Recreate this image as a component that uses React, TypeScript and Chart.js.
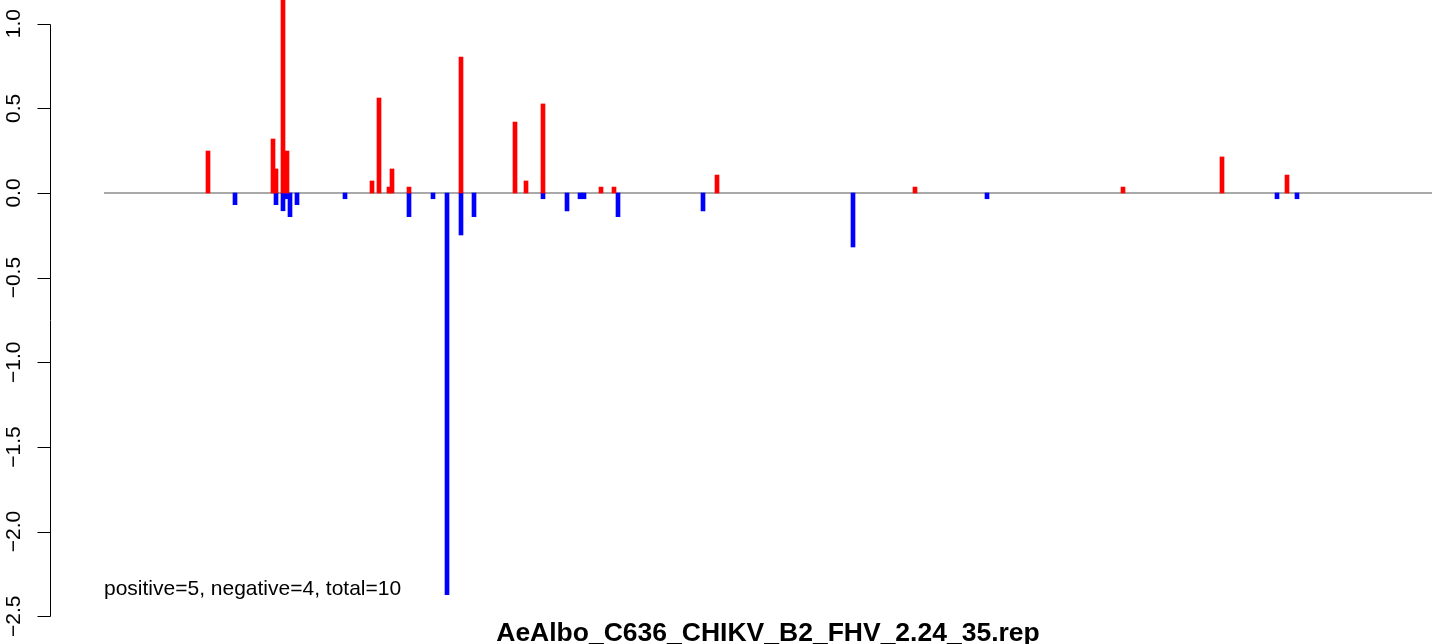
import React, { useEffect, useRef } from "react";
import { Chart, registerables } from "chart.js";

Chart.register(...registerables);

// Positions along the sequence (index units) and values
const redPos = [104, 169, 172, 179, 183, 268, 275, 285, 288, 305, 357, 411, 422, 439, 497, 510, 613, 811, 1019, 1118, 1183];
const redVal = [0.248, 0.319, 0.142, 1.25, 0.248, 0.071, 0.561, 0.035, 0.142, 0.035, 0.803, 0.419, 0.071, 0.526, 0.035, 0.035, 0.106, 0.035, 0.035, 0.213, 0.106];

const bluePos = [131, 172, 179, 183, 186, 193, 241, 305, 329, 343, 357, 370, 439, 463, 476, 480, 514, 599, 749, 883, 1173, 1193];
const blueVal = [-0.069, -0.069, -0.105, -0.034, -0.14, -0.069, -0.034, -0.14, -0.034, -2.373, -0.248, -0.14, -0.034, -0.106, -0.034, -0.034, -0.14, -0.106, -0.319, -0.034, -0.034, -0.034];

const baselineRange = [0, 1328];
const yTicks = [-2.5, -2.0, -1.5, -1.0, -0.5, 0.0, 0.5, 1.0];

const titleText = "AeAlbo_C636_CHIKV_B2_FHV_2.24_35.rep";
const noteText = "positive=5, negative=4, total=10";

const FONT = '"Liberation Sans", Arial, Helvetica, sans-serif';

function fmtTick(v: number): string {
  const s = v.toFixed(1);
  return s.startsWith("-") ? "\u2212" + s.slice(1) : s;
}

const decorPlugin = {
  id: "decor",
  afterDraw(chart: any) {
    const ctx = chart.ctx as CanvasRenderingContext2D;
    const y = chart.scales.y;
    const x = chart.scales.x;
    const axisX = 50.5;
    ctx.save();
    ctx.strokeStyle = "#000";
    ctx.lineWidth = 1;
    // axis line
    const yTop = Math.round(y.getPixelForValue(yTicks[yTicks.length - 1])) + 0.5;
    const yBot = Math.round(y.getPixelForValue(yTicks[0])) + 0.5;
    ctx.beginPath();
    ctx.moveTo(axisX, yTop);
    ctx.lineTo(axisX, yBot);
    for (const t of yTicks) {
      const py = Math.round(y.getPixelForValue(t)) + 0.5;
      ctx.moveTo(axisX, py);
      ctx.lineTo(axisX - 13, py);
    }
    ctx.stroke();
    // tick labels rotated
    ctx.fillStyle = "#000";
    ctx.font = `21px ${FONT}`;
    ctx.textAlign = "center";
    ctx.textBaseline = "alphabetic";
    for (const t of yTicks) {
      const py = y.getPixelForValue(t);
      ctx.save();
      ctx.translate(20, py);
      ctx.rotate(-Math.PI / 2);
      ctx.fillText(fmtTick(t), 0, 0);
      ctx.restore();
    }
    // note text
    const minVal = Math.min(...blueVal);
    ctx.textAlign = "left";
    ctx.fillText(noteText, x.getPixelForValue(baselineRange[0]), y.getPixelForValue(minVal));
    // title
    ctx.font = `bold 26.5px ${FONT}`;
    ctx.textAlign = "center";
    ctx.fillText(titleText, 768, 641);
    ctx.restore();
  },
};

export default function App() {
  const ref = useRef<HTMLCanvasElement | null>(null);
  useEffect(() => {
    if (!ref.current) return;
    const red = redPos.map((p, i) => ({ x: p, y: redVal[i] }));
    const blue = bluePos.map((p, i) => ({ x: p, y: blueVal[i] }));
    const chart = new Chart(ref.current, {
      type: "bar",
      data: {
        datasets: [
          {
            type: "line",
            data: baselineRange.map((p) => ({ x: p, y: 0 })),
            borderColor: "#A9A9A9",
            borderWidth: 2,
            pointRadius: 0,
            order: 5,
          } as any,
          {
            type: "bar",
            data: red,
            backgroundColor: "#FF0000",
            barThickness: 4,
            grouped: false,
            borderWidth: 0,
            order: 1,
          } as any,
          {
            type: "bar",
            data: blue,
            backgroundColor: "#0000FF",
            barThickness: 4,
            grouped: false,
            borderWidth: 0,
            order: 1,
          } as any,
        ],
      },
      options: {
        animation: false,
        responsive: false,
        maintainAspectRatio: false,
        layout: { padding: { left: 51, right: 8, top: 0, bottom: 0 } },
        plugins: {
          legend: { display: false },
          tooltip: { enabled: false },
          title: { display: false },
        },
        scales: {
          x: { type: "linear", min: -53, max: 1332, display: false, offset: false },
          y: { type: "linear", min: -2.664, max: 1.14, display: false },
        },
      } as any,
      plugins: [decorPlugin],
    });
    return () => chart.destroy();
  }, []);
  return (
    <div style={{ position: "fixed", left: 0, top: 0, width: 1444, height: 644, background: "#fff" }}>
      <canvas ref={ref} width={1444} height={644} style={{ width: 1444, height: 644, display: "block" }} />
    </div>
  );
}
